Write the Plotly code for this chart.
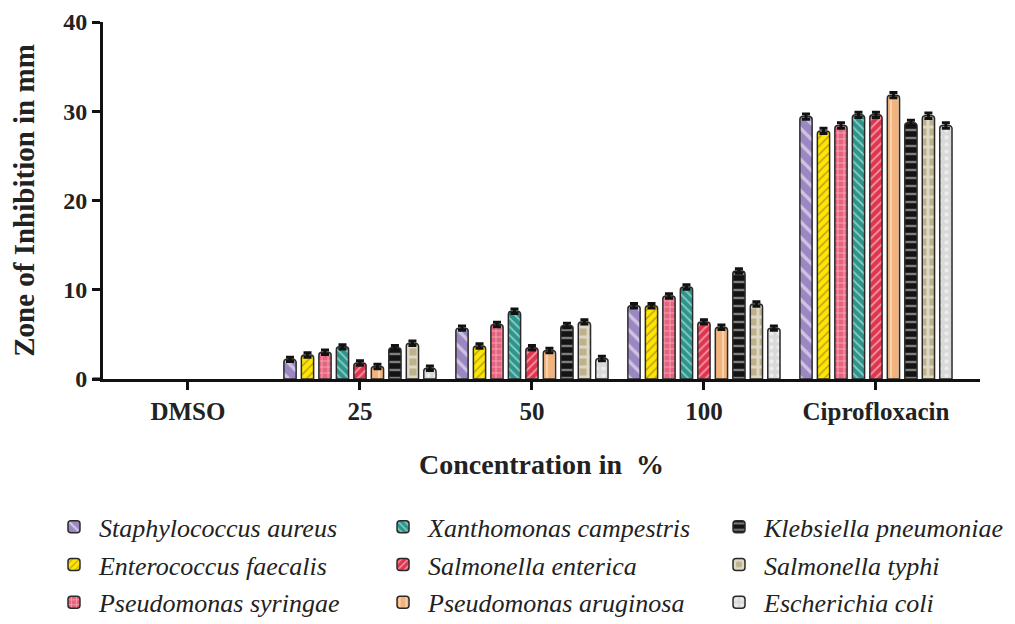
import plotly.graph_objects as go

categories = ["DMSO", "25", "50", "100", "Ciprofloxacin"]

series_names = [
    "Staphylococcus aureus", "Enterococcus faecalis", "Pseudomonas syringae",
    "Xanthomonas campestris", "Salmonella enterica", "Pseudomonas aruginosa",
    "Klebsiella pneumoniae", "Salmonella typhi", "Escherichia coli",
]

staph = [None, 2.2, 5.7, 8.2, 29.4]
entero = [None, 2.7, 3.7, 8.2, 27.8]
syringae = [None, 3.0, 6.1, 9.3, 28.4]
xantho = [None, 3.6, 7.6, 10.3, 29.6]
salm_ent = [None, 1.8, 3.5, 6.4, 29.6]
aruginosa = [None, 1.4, 3.2, 5.8, 31.8]
kleb = [None, 3.5, 6.0, 12.1, 28.7]
typhi = [None, 4.0, 6.4, 8.4, 29.5]
ecoli = [None, 1.2, 2.3, 5.7, 28.4]

errors = [None, 0.25, 0.25, 0.25, 0.3]

values = [staph, entero, syringae, xantho, salm_ent, aruginosa, kleb, typhi, ecoli]

styles = [
    dict(bg="#9b88c3", fg="#ffffff", shape="\\", size=11, sol=0.3),
    dict(bg="#ffe500", fg="#6b6040", shape="/", size=6, sol=0.25),
    dict(bg="#e8637f", fg="#ffffff", shape="+", size=6, sol=0.25),
    dict(bg="#2a968c", fg="#ffffff", shape="\\", size=6, sol=0.3),
    dict(bg="#e0354f", fg="#ffffff", shape="/", size=6, sol=0.3),
    dict(bg="#f2b47c", fg="#ffffff", shape="|", size=8, sol=0.2),
    dict(bg="#141414", fg="#e8e8e8", shape="-", size=8, sol=0.3),
    dict(bg="#bdb28c", fg="#ffffff", shape="+", size=10, sol=0.5),
    dict(bg="#d9d9d9", fg="#ffffff", shape=".", size=7, sol=0.3),
]

legend_of = ["legend", "legend", "legend", "legend2", "legend2", "legend2",
             "legend3", "legend3", "legend3"]

serif = "Liberation Serif"

fig = go.Figure()
for i, (name, vals, st) in enumerate(zip(series_names, values, styles)):
    fig.add_trace(go.Bar(
        x=categories, y=vals, name=name,
        legend=legend_of[i], legendgroup=name,
        marker=dict(
            color=st["bg"],
            line=dict(color="#2a2a2a", width=1.5),
            pattern=dict(shape=st["shape"], fgcolor=st["fg"], bgcolor=st["bg"],
                         size=st["size"], solidity=st["sol"], fillmode="overlay"),
            cornerradius=3,
        ),
        error_y=dict(type="data", array=errors, visible=True,
                     color="#111111", thickness=3, width=4),
    ))

legend_common = dict(
    orientation="v", yanchor="top", xanchor="left",
    font=dict(family=serif, size=26, color="#222222", style="italic"),
    bgcolor="rgba(0,0,0,0)", traceorder="grouped", tracegroupgap=1,
    itemwidth=40,
)

fig.update_layout(
    width=1015, height=624,
    margin=dict(l=95, r=43, t=14, b=253, autoexpand=False),
    paper_bgcolor="white", plot_bgcolor="white",
    barmode="group", bargap=0.085, bargroupgap=0.3,
    showlegend=True,
    legend=dict(x=-0.0616, y=-0.348, **legend_common),
    legend2=dict(x=0.3136, y=-0.348, **legend_common),
    legend3=dict(x=0.6967, y=-0.348, **legend_common),
    xaxis=dict(
        type="category", range=[-0.494, 4.605],
        showline=True, linecolor="#111111", linewidth=3,
        ticks="outside", ticklen=8, tickwidth=3, tickcolor="#111111",
        tickfont=dict(family=serif, size=25, color="#222222", weight="bold"),
        title=dict(text="Concentration in  %", standoff=31,
                   font=dict(family=serif, size=28, color="#222222", weight="bold")),
        showgrid=False, zeroline=False, automargin=False,
    ),
    yaxis=dict(
        range=[0, 40], tickvals=[0, 10, 20, 30, 40],
        showline=True, linecolor="#111111", linewidth=3,
        ticks="outside", ticklen=8, tickwidth=3, tickcolor="#111111",
        tickfont=dict(family=serif, size=24, color="#222222", weight="bold"),
        title=dict(text="Zone of Inhibition in mm", standoff=24,
                   font=dict(family=serif, size=29, color="#222222", weight="bold")),
        showgrid=False, zeroline=False, automargin=False,
    ),
)

# short extension of the x-axis line to the left of the y-axis
fig.add_shape(type="line", xref="paper", yref="paper",
              x0=-0.012, x1=0, y0=0, y1=0,
              line=dict(color="#111111", width=3))

fig.write_html("out.html")
